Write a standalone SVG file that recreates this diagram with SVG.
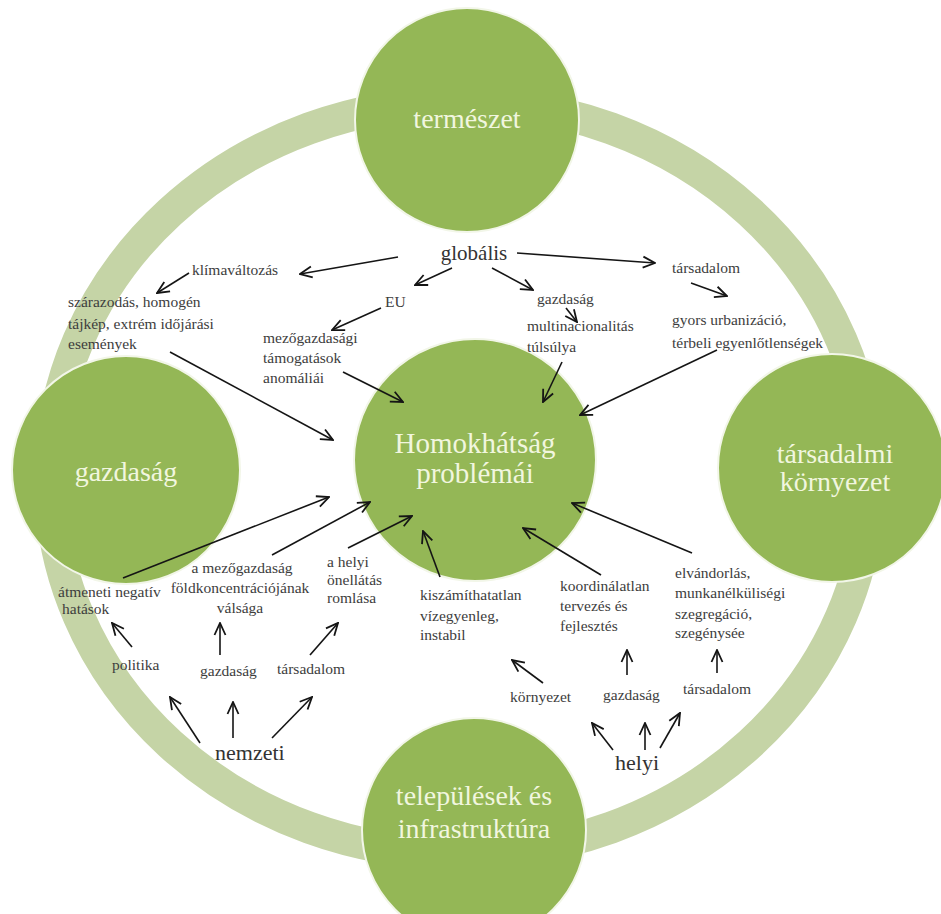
<svg xmlns="http://www.w3.org/2000/svg" width="941" height="914" viewBox="0 0 941 914">
<defs>
<marker id="ah" viewBox="0 0 14 14" refX="13" refY="7" markerWidth="14" markerHeight="14" markerUnits="userSpaceOnUse" orient="auto">
<path d="M1,1.5 L13,7 L1,12.5" fill="none" stroke="#151515" stroke-width="1.8"/>
</marker>
<style>
.ring{fill:none;stroke:#c5d4a6;stroke-width:32}
.node{fill:#94b756;stroke:#f2f6e8;stroke-width:2}
text{font-family:'Liberation Serif','Times New Roman','DejaVu Serif',serif}
.big{font-size:28px;fill:#f1f6df;text-anchor:middle}
.lbl{font-size:15.5px;fill:#3d3d3d}
.mid{text-anchor:middle}
.hd{font-size:21px;fill:#333}
.con line{stroke:#151515;stroke-width:1.6;marker-end:url(#ah)}
</style>
</defs>
<rect width="941" height="914" fill="#ffffff"/>
<ellipse class="ring" cx="460" cy="478" rx="410" ry="376"/>

<g id="termeszet"><circle class="node" cx="467" cy="120" r="112"/><text class="big" x="467" y="128" font-family="Liberation Serif, serif">természet</text></g>
<g id="gazdasag"><circle class="node" cx="126" cy="470" r="114"/><text class="big" x="126" y="481" font-family="Liberation Serif, serif">gazdaság</text></g>
<g id="tarsadalmi"><circle class="node" cx="832" cy="468" r="114"/><text class="big" x="835" y="463" font-family="Liberation Serif, serif">társadalmi</text><text class="big" x="835" y="491" font-family="Liberation Serif, serif">környezet</text></g>
<g id="telepulesek"><circle class="node" cx="474" cy="830" r="112"/><text class="big" x="474" y="805" font-family="Liberation Serif, serif">települések és</text><text class="big" x="474" y="838" font-family="Liberation Serif, serif">infrastruktúra</text></g>
<g id="homokhatsag"><circle class="node" cx="475" cy="460" r="121"/><text class="big" style="font-size:29px" x="475" y="453" font-family="Liberation Serif, serif">Homokhátság</text><text class="big" style="font-size:29px" x="475" y="483" font-family="Liberation Serif, serif">problémái</text></g>

<g class="con" id="connectors">
<line x1="398" y1="257" x2="300" y2="274"/>
<line x1="517" y1="253" x2="655" y2="263"/>
<line x1="452" y1="268" x2="415" y2="285"/>
<line x1="492" y1="268" x2="533" y2="290"/>
<line x1="566" y1="308" x2="577" y2="322"/>
<line x1="381" y1="308" x2="332" y2="330"/>
<line x1="189" y1="273" x2="157" y2="293"/>
<line x1="691" y1="283" x2="727" y2="296"/>
<line x1="170" y1="352" x2="333" y2="440"/>
<line x1="343" y1="372" x2="403" y2="402"/>
<line x1="562" y1="362" x2="543" y2="402"/>
<line x1="717" y1="350" x2="580" y2="415"/>
<line x1="123" y1="578" x2="329" y2="497"/>
<line x1="272" y1="555" x2="370" y2="502"/>
<line x1="348" y1="548" x2="412" y2="516"/>
<line x1="440" y1="577" x2="423" y2="531"/>
<line x1="601" y1="575" x2="523" y2="528"/>
<line x1="692" y1="553" x2="572" y2="503"/>
<line x1="132" y1="647" x2="112" y2="623"/>
<line x1="220" y1="655" x2="220" y2="623"/>
<line x1="310" y1="655" x2="338" y2="623"/>
<line x1="200" y1="743" x2="170" y2="697"/>
<line x1="233" y1="738" x2="233" y2="702"/>
<line x1="272" y1="738" x2="312" y2="697"/>
<line x1="543" y1="683" x2="512" y2="660"/>
<line x1="627" y1="675" x2="627" y2="650"/>
<line x1="717" y1="673" x2="717" y2="650"/>
<line x1="613" y1="750" x2="592" y2="723"/>
<line x1="645" y1="750" x2="645" y2="723"/>
<line x1="660" y1="748" x2="680" y2="713"/>
</g>

<g id="globalis"><text class="hd" x="474" y="260" text-anchor="middle" font-family="Liberation Serif, serif">globális</text></g>
<g id="klima" font-family="Liberation Serif, serif"><text class="lbl" x="192" y="275">klímaváltozás</text></g>
<g id="tars-top"><text class="lbl" x="672" y="273">társadalom</text></g>
<g id="eu"><text class="lbl" x="385" y="307">EU</text></g>
<g id="gazd-top"><text class="lbl" x="537" y="304">gazdaság</text></g>
<g id="multi"><text class="lbl" x="527" y="331">multinacionalitás</text><text class="lbl" x="527" y="352">túlsúlya</text></g>
<g id="urban"><text class="lbl" x="672" y="325">gyors urbanizáció,</text><text class="lbl" x="672" y="348">térbeli egyenlőtlenségek</text></g>
<g id="szarazodas"><text class="lbl" x="68" y="307">szárazodás, homogén</text><text class="lbl" x="68" y="329">tájkép, extrém időjárási</text><text class="lbl" x="68" y="349">események</text></g>
<g id="tamogatas"><text class="lbl" x="263" y="343">mezőgazdasági</text><text class="lbl" x="263" y="363">támogatások</text><text class="lbl" x="263" y="383">anomáliái</text></g>

<g id="atmeneti"><text class="lbl" x="58" y="597">átmeneti negatív</text><text class="lbl" x="62" y="614">hatások</text></g>
<g id="foldkonc"><text class="lbl mid" x="242" y="573">a mezőgazdaság</text><text class="lbl mid" x="240" y="593">földkoncentrációjának</text><text class="lbl mid" x="240" y="613">válsága</text></g>
<g id="onellatas"><text class="lbl" x="327" y="567">a helyi</text><text class="lbl" x="327" y="585">önellátás</text><text class="lbl" x="327" y="603">romlása</text></g>
<g id="vizegyenleg"><text class="lbl" x="420" y="600">kiszámíthatatlan</text><text class="lbl" x="420" y="621">vízegyenleg,</text><text class="lbl" x="420" y="640">instabil</text></g>
<g id="koordinalatlan"><text class="lbl" x="560" y="591">koordinálatlan</text><text class="lbl" x="560" y="611">tervezés és</text><text class="lbl" x="560" y="631">fejlesztés</text></g>
<g id="elvandorlas"><text class="lbl" x="675" y="578">elvándorlás,</text><text class="lbl" x="675" y="598">munkanélküliségi</text><text class="lbl" x="675" y="619">szegregáció,</text><text class="lbl" x="675" y="638">szegénysée</text></g>

<g id="politika"><text class="lbl" x="112" y="670">politika</text></g>
<g id="gazd-n"><text class="lbl" x="200" y="676">gazdaság</text></g>
<g id="tars-n"><text class="lbl" x="277" y="674">társadalom</text></g>
<g id="nemzeti"><text class="hd" x="215" y="760" style="font-size:22px">nemzeti</text></g>
<g id="kornyezet"><text class="lbl" x="510" y="702">környezet</text></g>
<g id="gazd-h"><text class="lbl" x="603" y="700">gazdaság</text></g>
<g id="tars-h"><text class="lbl" x="683" y="694">társadalom</text></g>
<g id="helyi"><text class="hd" x="615" y="770" style="font-size:22px">helyi</text></g>
</svg>
